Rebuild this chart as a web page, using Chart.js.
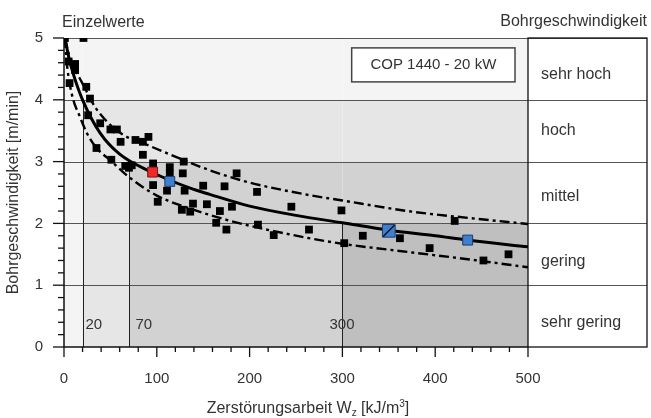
<!DOCTYPE html>
<html>
<head>
<meta charset="utf-8">
<script src="https://cdn.jsdelivr.net/npm/chart.js@4.4.1/dist/chart.umd.min.js"></script>
<style>
  html, body { margin: 0; padding: 0; background: #fff; }
</style>
</head>
<body>
<canvas id="bohrChart" width="651" height="418"></canvas>
<script>
// single measurements (Einzelwerte)
const pointsX = [1, 21, 5, 12, 12, 6, 24, 28, 26, 39, 50, 57, 61, 35, 51, 66, 73, 70, 77, 85, 91, 85, 96, 96,
  114, 114, 129, 128, 130, 111, 101, 150, 173, 186, 208, 245, 139, 154, 127, 136, 168, 181, 164, 175,
  209, 226, 264, 299, 322, 302, 362, 394, 421, 452, 479];
const pointsY = [5.0, 5.0, 4.62, 4.58, 4.48, 4.27, 4.21, 4.02, 3.75, 3.62, 3.52, 3.52, 3.32, 3.22, 3.03, 2.93, 2.94, 2.90, 3.35, 3.32, 3.40, 3.11, 2.97, 2.62,
  2.91, 2.80, 3.0, 2.81, 2.53, 2.53, 2.35, 2.61, 2.60, 2.81, 2.51, 2.27, 2.32, 2.31, 2.22, 2.19, 2.20, 2.27, 2.01, 1.90,
  1.98, 1.81, 1.90, 2.21, 1.80, 1.68, 1.76, 1.60, 2.04, 1.40, 1.50];

// highlighted values
const redX = [95.5], redY = [2.83];
const blueX = [114, 435], blueY = [2.68, 1.73];
const bigBlueX = [350], bigBlueY = [1.88];

// curves
const meanX = [1, 5, 10, 20, 39, 60, 93, 136, 157, 200, 250, 300, 350, 400, 435, 500];
const meanY = [5.0, 4.7, 4.42, 4.0, 3.46, 3.12, 2.84, 2.57, 2.47, 2.28, 2.13, 2.01, 1.89, 1.80, 1.73, 1.62];
const upperX = [1, 5, 10, 19, 35, 62, 85, 128, 157, 200, 260, 300, 375, 435, 500];
const upperY = [5.0, 4.75, 4.55, 4.29, 3.85, 3.45, 3.30, 3.03, 2.86, 2.66, 2.47, 2.37, 2.19, 2.09, 1.99];
const lowerX = [1, 3, 6, 10, 17, 25, 35, 50, 70, 100, 136, 182, 254, 300, 375, 435, 500];
const lowerY = [5.0, 4.6, 4.27, 4.0, 3.73, 3.45, 3.22, 3.02, 2.75, 2.45, 2.24, 2.03, 1.79, 1.67, 1.53, 1.42, 1.29];

// zones
const zoneX = [0, 20, 70, 300, 500];
const zoneY = [5, 4, 3, 2, 0];
const zoneLabels = ['20', '70', '300'];
const classLabels = ['sehr hoch', 'hoch', 'mittel', 'gering', 'sehr gering'];
const classLabelY = [4.40, 3.50, 2.43, 1.38, 0.40];
const xTicks = [0, 100, 200, 300, 400, 500];
const yTicks = [0, 1, 2, 3, 4, 5];

const shades = ['#f4f4f4', '#e6e6e6', '#d2d2d2', '#bfbfbf'];
const zoneLabelShift = [2, 6, -13];
const FONT = '"Liberation Sans", Arial, sans-serif';
const TEXT = '#333';

const toXY = (xs, ys) => xs.map((v, i) => ({ x: v, y: ys[i] }));

const decorPlugin = {
  id: 'decor',
  beforeDatasetsDraw(chart) {
    const { ctx, chartArea: a, scales: { x, y } } = chart;
    const tableRight = chart.width - 4;
    ctx.save();

    // shaded classes
    for (let i = 0; i < zoneX.length - 1; i++) {
      for (let j = 0; j < zoneY.length - 1; j++) {
        const x0 = x.getPixelForValue(zoneX[i]), x1 = x.getPixelForValue(zoneX[i + 1]);
        const y0 = y.getPixelForValue(zoneY[j]), y1 = y.getPixelForValue(zoneY[j + 1]);
        ctx.fillStyle = shades[Math.min(i, j)];
        ctx.fillRect(x0, y0, x1 - x0, y1 - y0);
      }
    }

    // horizontal lines across plot and table
    ctx.lineWidth = 1.2;
    ctx.strokeStyle = '#555';
    yTicks.forEach(v => {
      if (v === 0) return;
      const py = Math.round(y.getPixelForValue(v)) + 0.5;
      ctx.beginPath();
      ctx.moveTo(a.left, py);
      ctx.lineTo(tableRight, py);
      ctx.stroke();
    });

    // zone boundaries
    ctx.strokeStyle = '#222';
    ctx.lineWidth = 1;
    ctx.font = '15px ' + FONT;
    ctx.fillStyle = TEXT;
    ctx.textBaseline = 'middle';
    ctx.textAlign = 'left';
    for (let i = 1; i < zoneX.length - 1; i++) {
      const px = Math.round(x.getPixelForValue(zoneX[i])) + 0.5;
      ctx.beginPath();
      ctx.moveTo(px, y.getPixelForValue(0));
      ctx.lineTo(px, y.getPixelForValue(zoneY[i]));
      ctx.stroke();
      ctx.fillText(zoneLabels[i - 1], px + zoneLabelShift[i - 1], y.getPixelForValue(0.36));
    }

    // table frame
    ctx.strokeStyle = '#111';
    ctx.lineWidth = 1.3;
    ctx.strokeRect(a.right, a.top, tableRight - a.right, a.bottom - a.top);
    ctx.font = '16px ' + FONT;
    classLabels.forEach((t, i) => {
      ctx.fillText(t, a.right + 13, y.getPixelForValue(classLabelY[i]));
    });

    // axes
    ctx.strokeStyle = '#111';
    ctx.lineWidth = 1.5;
    ctx.beginPath();
    ctx.moveTo(a.left, a.top);
    ctx.lineTo(a.left, a.bottom);
    ctx.lineTo(a.right, a.bottom);
    ctx.stroke();

    // ticks
    ctx.lineWidth = 1.3;
    for (let v = 0; v <= 500; v += 20) {
      const px = x.getPixelForValue(v);
      ctx.beginPath();
      ctx.moveTo(px, a.bottom);
      ctx.lineTo(px, a.bottom + (v % 100 === 0 ? 10 : 5));
      ctx.stroke();
    }
    for (let k = 0; k <= 25; k++) {
      const py = y.getPixelForValue(k / 5);
      ctx.beginPath();
      ctx.moveTo(a.left, py);
      ctx.lineTo(a.left - (k % 5 === 0 ? 11 : 6), py);
      ctx.stroke();
    }

    // COP box
    const bx0 = x.getPixelForValue(310), bx1 = x.getPixelForValue(486);
    const by0 = y.getPixelForValue(4.84), by1 = y.getPixelForValue(4.29);
    ctx.fillStyle = '#fff';
    ctx.fillRect(bx0, by0, bx1 - bx0, by1 - by0);
    ctx.strokeStyle = '#444';
    ctx.lineWidth = 1.5;
    ctx.strokeRect(bx0, by0, bx1 - bx0, by1 - by0);
    ctx.fillStyle = TEXT;
    ctx.textAlign = 'center';
    ctx.font = '15px ' + FONT;
    ctx.fillText('COP 1440 - 20 kW', (bx0 + bx1) / 2, (by0 + by1) / 2);

    // headings
    ctx.font = '16px ' + FONT;
    ctx.textAlign = 'left';
    ctx.fillText('Einzelwerte', a.left - 2, 23);
    ctx.textAlign = 'right';
    ctx.fillText('Bohrgeschwindigkeit', tableRight, 22);

    // y title
    ctx.save();
    ctx.translate(14, (a.top + a.bottom) / 2);
    ctx.rotate(-Math.PI / 2);
    ctx.textAlign = 'center';
    ctx.fillText('Bohrgeschwindigkeit [m/min]', 0, 0);
    ctx.restore();

    // x title with subscript / superscript
    const parts = [
      ['Zerstörungsarbeit W', 16, 0],
      ['z', 10, 4],
      [' [kJ/m', 16, 0],
      ['3', 10, -5],
      [']', 16, 0]
    ];
    let total = 0;
    parts.forEach(p => { ctx.font = p[1] + 'px ' + FONT; total += ctx.measureText(p[0]).width; });
    let cx = (a.left + a.right) / 2 + 12 - total / 2;
    ctx.textAlign = 'left';
    parts.forEach(p => {
      ctx.font = p[1] + 'px ' + FONT;
      ctx.fillText(p[0], cx, 409 + p[2]);
      cx += ctx.measureText(p[0]).width;
    });
    ctx.restore();
  }
};

const dashDot = [10, 4, 3, 4];

new Chart(document.getElementById('bohrChart'), {
  type: 'scatter',
  plugins: [decorPlugin],
  data: {
    datasets: [
      {
        data: toXY(bigBlueX, bigBlueY),
        pointStyle: 'line', rotation: -45, pointRadius: 8,
        borderColor: '#111', borderWidth: 1.5
      },
      {
        data: toXY(bigBlueX, bigBlueY),
        pointStyle: 'rect', pointRadius: 9,
        backgroundColor: '#3f7fd0', borderColor: '#1d3c66', borderWidth: 1
      },
      {
        data: toXY(blueX, blueY),
        pointStyle: 'rect', pointRadius: 7,
        backgroundColor: '#3f7fd0', borderColor: '#1d3c66', borderWidth: 1
      },
      {
        data: toXY(redX, redY),
        pointStyle: 'rect', pointRadius: 7,
        backgroundColor: '#f02828', borderColor: '#7a1515', borderWidth: 1
      },
      {
        data: toXY(meanX, meanY),
        showLine: true, pointRadius: 0, borderColor: '#000', borderWidth: 3,
        cubicInterpolationMode: 'monotone'
      },
      {
        data: toXY(upperX, upperY),
        showLine: true, pointRadius: 0, borderColor: '#000', borderWidth: 2.4,
        borderDash: dashDot, cubicInterpolationMode: 'monotone'
      },
      {
        data: toXY(lowerX, lowerY),
        showLine: true, pointRadius: 0, borderColor: '#000', borderWidth: 2.4,
        borderDash: dashDot, cubicInterpolationMode: 'monotone'
      },
      {
        data: toXY(pointsX, pointsY),
        pointStyle: 'rect', pointRadius: 5.5,
        backgroundColor: '#000', borderColor: '#000', borderWidth: 0
      }
    ]
  },
  options: {
    responsive: false,
    animation: false,
    events: [],
    layout: { padding: { left: 0, right: 123, top: 38, bottom: 0 } },
    plugins: { legend: { display: false }, tooltip: { enabled: false } },
    scales: {
      x: {
        type: 'linear', min: 0, max: 500,
        afterFit: s => { s.height = 71; },
        afterBuildTicks: s => { s.ticks = xTicks.map(v => ({ value: v })); },
        grid: { display: false, drawTicks: false },
        border: { display: false },
        ticks: { padding: 23, color: TEXT, font: { size: 15, family: FONT } }
      },
      y: {
        type: 'linear', min: 0, max: 5,
        afterFit: s => { s.width = 64; },
        afterBuildTicks: s => { s.ticks = yTicks.map(v => ({ value: v })); },
        grid: { display: false, drawTicks: false },
        border: { display: false },
        ticks: { padding: 21, color: TEXT, font: { size: 15, family: FONT } }
      }
    }
  }
});
</script>
</body>
</html>
